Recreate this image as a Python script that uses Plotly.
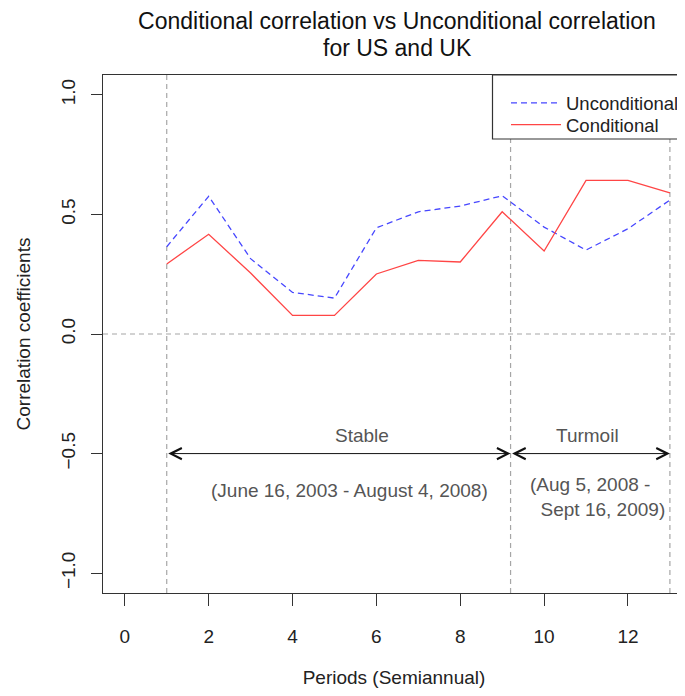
import plotly.graph_objects as go

# ---- data ----
periods = list(range(1, 14))
unconditional = [0.365, 0.576, 0.315, 0.174, 0.150, 0.444, 0.511, 0.535, 0.578, 0.447, 0.351, 0.440, 0.560]
conditional = [0.293, 0.417, 0.255, 0.078, 0.078, 0.251, 0.308, 0.301, 0.511, 0.347, 0.642, 0.642, 0.590]

period_bounds = [1, 9.2, 13]          # vertical dashed boundaries
arrow_level = -0.5                     # level of the double arrows
phase_names = ["Stable", "Turmoil"]
phase_name_pos = [(5.65, -0.423), (11.03, -0.423)]
stable_dates = "(June 16, 2003 - August 4, 2008)"
stable_dates_pos = (5.37, -0.655)
turmoil_dates = ["(Aug 5, 2008 -", "\u00a0\u00a0Sept 16, 2009)"]
turmoil_dates_pos = (9.62, -0.68)

title_line1 = "Conditional correlation vs Unconditional correlation"
title_line2 = "for US and UK"

y_ticks = [-1.0, -0.5, 0.0, 0.5, 1.0]
x_ticks = [0, 2, 4, 6, 8, 10, 12]

FONT = "Liberation Sans, Arial, sans-serif"
# the page body adds an 8px offset, so the figure is 8px smaller on each axis
W, H = 677, 688
ML, MT, MB, MR = 95, 67, 103, 0
plot_w = W - ML - MR
plot_h = H - MT - MB
TITLE_CX = 389  # horizontal centre of the title block (figure px)

fig = go.Figure()
fig.add_trace(go.Scatter(
    x=periods, y=unconditional, mode="lines", name="Unconditional", legend="legend",
    line=dict(color="#4747ff", width=1.3, dash="6px,4px")))
fig.add_trace(go.Scatter(
    x=periods, y=conditional, mode="lines", name="Conditional", legend="legend2",
    line=dict(color="#ff4545", width=1.3)))

shapes = []
grey = "#a6a6a6"
for b in period_bounds:
    shapes.append(dict(type="line", xref="x", yref="paper", x0=b, x1=b, y0=0, y1=1,
                       line=dict(color=grey, width=1.2, dash="5px,4px"), layer="below"))
shapes.append(dict(type="line", xref="paper", yref="y", x0=0, x1=1, y0=0, y1=0,
                   line=dict(color=grey, width=1.2, dash="5px,4px"), layer="below"))
# legend frame (runs past the right edge, as in the cropped reference)
shapes.append(dict(type="rect", xref="paper", yref="paper",
                   x0=(484.5 - ML) / plot_w, x1=1.05,
                   y0=(H - MB - 131) / plot_h, y1=1.0,
                   line=dict(color="#333333", width=1.2), fillcolor="white", layer="above"))

annotations = []
for a, b in zip(period_bounds[:-1], period_bounds[1:]):
    annotations.append(dict(
        x=b, y=arrow_level, ax=a, ay=arrow_level, xref="x", yref="y", axref="x", ayref="y",
        text="", showarrow=True, arrowhead=5, startarrowhead=5, arrowside="end+start",
        arrowsize=2.2, startarrowsize=2.2, arrowwidth=1, arrowcolor="#111111",
        standoff=0, startstandoff=0))
for name, (px, py) in zip(phase_names, phase_name_pos):
    annotations.append(dict(x=px, y=py, xref="x", yref="y", text=name, showarrow=False,
                            font=dict(family=FONT, size=19, color="#555555")))
annotations.append(dict(x=stable_dates_pos[0], y=stable_dates_pos[1], xref="x", yref="y",
                        text=stable_dates, showarrow=False,
                        font=dict(family=FONT, size=19, color="#555555")))
annotations.append(dict(x=turmoil_dates_pos[0], y=turmoil_dates_pos[1], xref="x", yref="y",
                        text="<br>".join(turmoil_dates), showarrow=False, align="left",
                        xanchor="left", yanchor="middle",
                        font=dict(family=FONT, size=19, color="#555555")))
# second line of the main title
annotations.append(dict(x=(TITLE_CX - ML) / plot_w, y=1 + (MT - 39.5) / plot_h,
                        xref="paper", yref="paper", xanchor="center", yanchor="middle",
                        text=title_line2, showarrow=False,
                        font=dict(family=FONT, size=23, color="#111111")))

legend_common = dict(xanchor="left", yanchor="top", bgcolor="rgba(0,0,0,0)", borderwidth=0,
                     font=dict(family=FONT, size=18.5, color="#222222"), itemwidth=50)
leg_x = (498 - ML) / plot_w

fig.update_layout(
    width=W, height=H,
    margin=dict(l=ML, r=MR, t=MT, b=MB),
    paper_bgcolor="white", plot_bgcolor="white",
    font=dict(family=FONT, size=19, color="#222222"),
    title=dict(text=title_line1,
               x=TITLE_CX / W, xref="container", xanchor="center",
               y=1 - 13 / H, yref="container", yanchor="middle",
               font=dict(family=FONT, size=23, color="#111111")),
    showlegend=True,
    legend=dict(x=leg_x, y=1 - (76.3 - MT) / plot_h, **legend_common),
    legend2=dict(x=leg_x, y=1 - (98 - MT) / plot_h, **legend_common),
    shapes=shapes,
    annotations=annotations,
)
fig.update_xaxes(
    range=[-0.52, 13.36], tickvals=x_ticks, ticks="outside", ticklen=12, tickwidth=1.2,
    tickcolor="#333333", showline=True, linecolor="#333333", linewidth=1.2, mirror=True,
    showgrid=False, zeroline=False, ticklabelstandoff=14,
    title=dict(text="Periods (Semiannual)", standoff=24, font=dict(family=FONT, size=19)),
)
fig.update_yaxes(
    range=[-1.083, 1.083], tickvals=y_ticks, tickformat=".1f", ticks="outside", ticklen=11,
    tickwidth=1.2, tickcolor="#333333", showline=True, linecolor="#333333", linewidth=1.2,
    mirror=False, showgrid=False, zeroline=False, tickangle=-90, ticklabelstandoff=8,
    title=dict(text="Correlation coefficients", standoff=22, font=dict(family=FONT, size=19)),
)

fig.write_html("out.html")
